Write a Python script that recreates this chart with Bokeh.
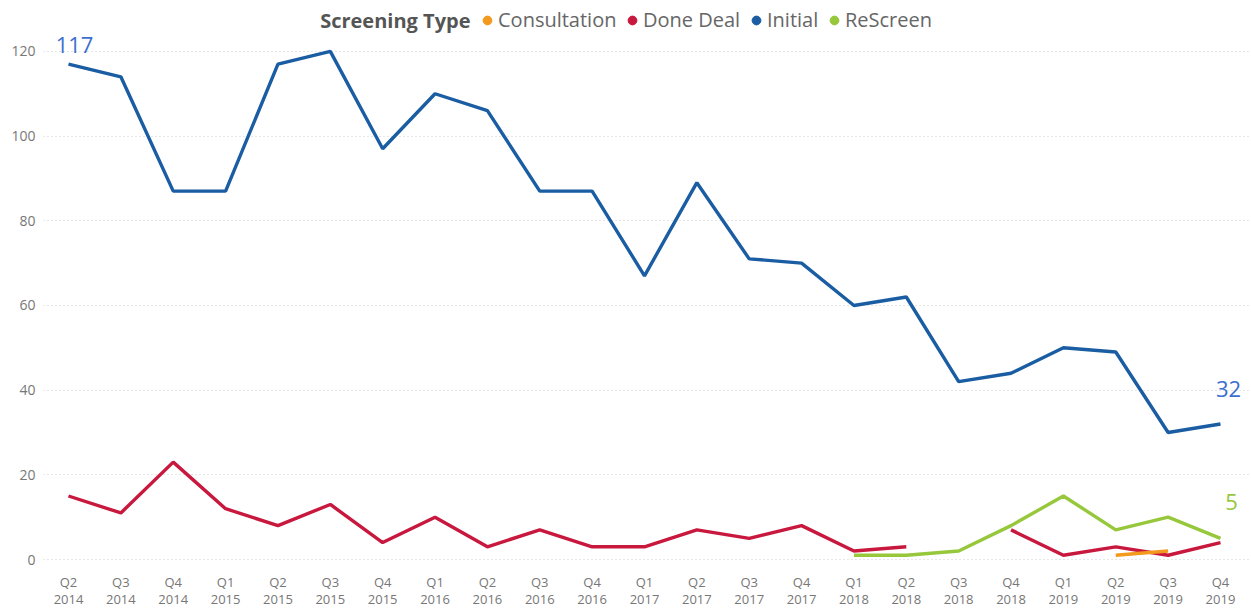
import numpy as np
from bokeh.plotting import figure
from bokeh.models import (ColumnDataSource, Range1d, FixedTicker, Legend, LegendItem, Label)
from bokeh.core.properties import value
from bokeh.embed import file_html
from bokeh.resources import INLINE

nan = float("nan")

quarters = ["Q2", "Q3", "Q4",
            "Q1", "Q2", "Q3", "Q4",
            "Q1", "Q2", "Q3", "Q4",
            "Q1", "Q2", "Q3", "Q4",
            "Q1", "Q2", "Q3", "Q4",
            "Q1", "Q2", "Q3", "Q4"]
years = ["2014"] * 3 + ["2015"] * 4 + ["2016"] * 4 + ["2017"] * 4 + ["2018"] * 4 + ["2019"] * 4

initial = [117, 114, 87, 87, 117, 120, 97, 110, 106, 87, 87, 67,
           89, 71, 70, 60, 62, 42, 44, 50, 49, 30, 32]
done_deal = [15, 11, 23, 12, 8, 13, 4, 10, 3, 7, 3, 3,
             7, 5, 8, 2, 3, nan, 7, 1, 3, 1, 4]
rescreen = [nan] * 15 + [1, 1, 2, 8, 15, 7, 10, 5]
consultation = [nan] * 20 + [1, 2, nan]

y_ticks = [0, 20, 40, 60, 80, 100, 120]

series_names = ["Consultation", "Done Deal", "Initial", "ReScreen"]
series_colors = ["#F39A1E", "#C8183E", "#1A5DA3", "#97C83C"]

FONT = "Open Sans"
idx = list(range(len(quarters)))

src = ColumnDataSource(dict(x=idx, initial=initial, done=done_deal,
                            rescreen=rescreen, consult=consultation))

FRAME_LEFT = 43
p = figure(width=1250, height=610, output_backend="svg", toolbar_location=None,
           x_range=Range1d(-0.4774, 22.554), y_range=Range1d(-0.707, 131.55),
           min_border_left=FRAME_LEFT, min_border_right=1, min_border_top=2, min_border_bottom=47)
p.outline_line_color = None
p.background_fill_color = "white"
p.border_fill_color = "white"

LW = 3.4
r_init = p.line("x", "initial", source=src, line_color=series_colors[2], line_width=LW)
r_done = p.line("x", "done", source=src, line_color=series_colors[1], line_width=LW)
r_res = p.line("x", "rescreen", source=src, line_color=series_colors[3], line_width=LW)
r_con = p.line("x", "consult", source=src, line_color=series_colors[0], line_width=LW)

# legend: one small legend per series so each entry sits where the reference has it
legend_text_starts = [498, 643, 767, 845]
for name, col, tx in zip(series_names, series_colors, legend_text_starts):
    r = p.scatter(x=[nan], y=[nan], marker="circle", size=9, fill_color=col, line_color=col)
    lg = Legend(items=[LegendItem(label=name, renderers=[r])],
                orientation="horizontal", location=(tx - 22 - FRAME_LEFT, 529),
                glyph_width=22, glyph_height=22, label_height=22, label_standoff=0, spacing=0,
                padding=0, margin=0, border_line_alpha=0, background_fill_alpha=0,
                label_text_font=FONT, label_text_font_size="20px", label_text_color="#666666",
                label_text_baseline="middle")
    p.add_layout(lg, "center")

p.add_layout(Label(x=470 - FRAME_LEFT, y=542, x_units="screen", y_units="screen",
                   text="Screening Type", text_align="right", text_baseline="middle",
                   text_font=FONT, text_font_size="20px", text_font_style="bold",
                   text_color="#555555"))

# data labels
p.text(x=[idx[0]], y=[initial[0]], text=[str(initial[0])], text_align="center",
       text_baseline="middle", x_offset=6, y_offset=-19, text_font=value(FONT),
       text_font_size="22px", text_color="#3C6FCF")
p.text(x=[idx[-1]], y=[initial[-1]], text=[str(initial[-1])], text_align="center",
       text_baseline="middle", x_offset=8, y_offset=-35, text_font=value(FONT),
       text_font_size="22px", text_color="#3C6FCF")
p.text(x=[idx[-1]], y=[rescreen[-1]], text=[str(rescreen[-1])], text_align="center",
       text_baseline="middle", x_offset=11, y_offset=-36, text_font=value(FONT),
       text_font_size="22px", text_color=series_colors[3])

# axes
p.xaxis.ticker = FixedTicker(ticks=idx)
p.xaxis.major_label_overrides = {i: f"{q}\n{y}" for i, q, y in zip(idx, quarters, years)}
p.yaxis.ticker = FixedTicker(ticks=y_ticks)
for ax in (p.xaxis, p.yaxis):
    ax.axis_line_color = None
    ax.major_tick_line_color = None
    ax.minor_tick_line_color = None
    ax.major_tick_out = 0
    ax.major_tick_in = 0
    ax.minor_tick_out = 0
    ax.minor_tick_in = 0
    ax.major_label_text_font = FONT
    ax.major_label_text_color = "#777777"
p.xaxis.major_label_text_font_size = "13px"
p.xaxis.major_label_text_line_height = 0.95
p.xaxis.major_label_standoff = 10
p.yaxis.major_label_text_font_size = "14px"
p.yaxis.major_label_standoff = 8

p.xgrid.grid_line_color = None
p.ygrid.ticker = FixedTicker(ticks=y_ticks)
p.ygrid.grid_line_color = "#cccccc"
p.ygrid.grid_line_dash = "1 3"
p.ygrid.grid_line_width = 1

open("out.html", "w").write(file_html(p, INLINE))
